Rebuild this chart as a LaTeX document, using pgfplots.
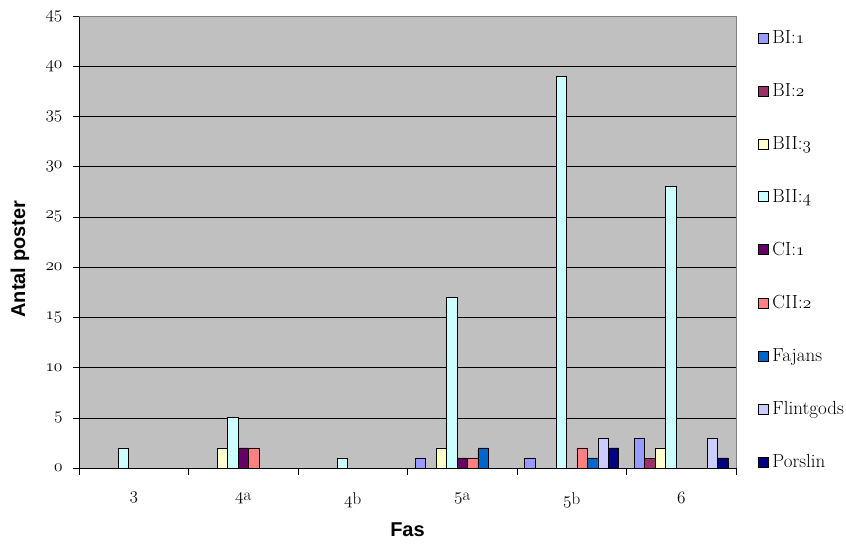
\documentclass[border=0pt]{standalone}
\usepackage{pgfplots}
\pgfplotsset{compat=1.18}
\usepackage{fontspec}
\newfontfamily\labelfont{Liberation Sans}

\definecolor{plotbg}{RGB}{192,192,192}
\definecolor{frame}{RGB}{128,128,128}
\definecolor{cBIa}{RGB}{153,153,255}
\definecolor{cBIb}{RGB}{153,51,102}
\definecolor{cBIIc}{RGB}{255,255,204}
\definecolor{cBIId}{RGB}{204,255,255}
\definecolor{cCIa}{RGB}{102,0,102}
\definecolor{cCIIb}{RGB}{255,128,128}
\definecolor{cFaj}{RGB}{0,102,204}
\definecolor{cFlint}{RGB}{204,204,255}
\definecolor{cPors}{RGB}{0,0,128}

% old-style figures from the math italic font
\newcommand{\os}[1]{{\usefont{OML}{lmm}{m}{it}#1}}

\begin{document}
\begin{tikzpicture}
  \begin{axis}[
      scale only axis,
      width=657pt, height=452pt,
      ybar, bar width=0.0954,
      xmin=-0.5, xmax=5.5,
      ymin=0, ymax=45,
      ytick={0,5,...,45},
      yticklabels={\os{0},\os{5},\os{10},\os{15},\os{20},\os{25},\os{30},\os{35},\os{40},\os{45}},
      xtick={0,...,5},
      xticklabels={\os{3},\os{4}a,\os{4}b,\os{5}a,\os{5}b,\os{6}},
      minor xtick={-0.5,0.5,...,5.5},
      xtick pos=bottom, ytick pos=left,
      x tick style={draw=none},
      minor x tick style={draw=black, thin},
      y tick style={black, thin},
      tick align=outside,
      major tick length=6pt,
      minor tick length=7pt,
      ymajorgrids,
      grid style={black, thin},
      axis line style={black, thin},
      axis background/.style={fill=plotbg},
      tick label style={font=\fontsize{17}{20}\selectfont},
      xticklabel style={yshift=-15pt},
      yticklabel style={xshift=-7pt},
      ylabel={Antal poster},
      xlabel={Fas},
      label style={font=\labelfont\bfseries\fontsize{20}{24}\selectfont},
      ylabel style={at={(axis description cs:-0.09,0.462)}, anchor=center, rotate=0},
      xlabel style={at={(axis description cs:0.5,-0.137)}, anchor=center},
      every axis plot/.append style={draw=black, line width=0.7pt},
      legend image code/.code={\draw[#1, draw=black, line width=0.6pt] (0pt,-5pt) rectangle (10pt,5pt);},
      legend style={at={(axis description cs:1.033,0.972)}, anchor=north west,
        draw=none, fill=none, inner sep=0pt,
        font=\fontsize{19}{22}\selectfont,
        row sep=34.4pt, column sep=2pt, legend cell align=left},
    ]
    \addplot[fill=cBIa, bar shift=-0.3816] coordinates {(3,1) (4,1) (5,3)};
    \addlegendentry{BI:\os{1}}
    \addplot[fill=cBIb, bar shift=-0.2862] coordinates {(5,1)};
    \addlegendentry{BI:\os{2}}
    \addplot[fill=cBIIc, bar shift=-0.1908] coordinates {(1,2) (3,2) (5,2)};
    \addlegendentry{BII:\os{3}}
    \addplot[fill=cBIId, bar shift=-0.0954] coordinates {(0,2) (1,5) (2,1) (3,17) (4,39) (5,28)};
    \addlegendentry{BII:\os{4}}
    \addplot[fill=cCIa, bar shift=0] coordinates {(1,2) (3,1)};
    \addlegendentry{CI:\os{1}}
    \addplot[fill=cCIIb, bar shift=0.0954] coordinates {(1,2) (3,1) (4,2)};
    \addlegendentry{CII:\os{2}}
    \addplot[fill=cFaj, bar shift=0.1908] coordinates {(3,2) (4,1)};
    \addlegendentry{Fajans}
    \addplot[fill=cFlint, bar shift=0.2862] coordinates {(4,3) (5,3)};
    \addlegendentry{Flintgods}
    \addplot[fill=cPors, bar shift=0.3816] coordinates {(4,2) (5,1)};
    \addlegendentry{Porslin}
    \coordinate (ll) at (rel axis cs:0,0);
    \coordinate (ur) at (rel axis cs:1,1);
  \end{axis}
  \draw[frame, thin] (ll |- ur) -- (ur) -- (ur |- ll);
  \pgfresetboundingbox
  \path ([shift={(-79pt,-75pt)}]ll) rectangle ([shift={(110pt,16pt)}]ur);
\end{tikzpicture}
\end{document}
